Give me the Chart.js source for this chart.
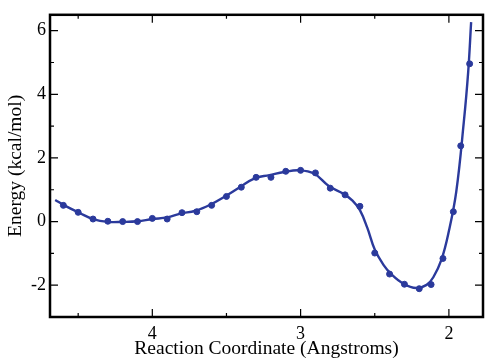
<!DOCTYPE html>
<html>
<head>
<meta charset="utf-8">
<script src="https://cdn.jsdelivr.net/npm/chart.js@4/dist/chart.umd.min.js"></script>
<style>
  html, body { margin: 0; padding: 0; background: #fff; }
  #wrap { width: 488px; height: 358px; position: relative; }
</style>
</head>
<body>
<div id="wrap"><canvas id="energyChart"></canvas></div>
<script>
// computed energies (dots)
const pointX = [4.6, 4.5, 4.4, 4.3, 4.2, 4.1, 4.0, 3.9, 3.8, 3.7, 3.6, 3.5, 3.4, 3.3, 3.2, 3.1, 3.0, 2.9, 2.8, 2.7, 2.6, 2.5, 2.4, 2.3, 2.2, 2.12, 2.04, 1.97, 1.92, 1.86];
const pointY = [0.51, 0.29, 0.08, 0.01, 0.0, 0.0, 0.10, 0.08, 0.28, 0.31, 0.51, 0.79, 1.08, 1.39, 1.39, 1.58, 1.61, 1.53, 1.05, 0.84, 0.48, -0.99, -1.65, -1.97, -2.11, -1.98, -1.16, 0.31, 2.38, 4.96];

// fitted curve
const fitX = [4.655, 4.59, 4.49, 4.40, 4.30, 4.20, 4.10, 4.00, 3.90, 3.81, 3.71, 3.61, 3.51, 3.41, 3.31, 3.21, 3.11, 3.01, 2.91, 2.81, 2.71, 2.65, 2.6, 2.55, 2.5, 2.44, 2.385, 2.305, 2.22, 2.15, 2.105, 2.05, 2.0, 1.95, 1.9, 1.87, 1.85];
const fitY = [0.68, 0.50, 0.27, 0.08, -0.01, -0.01, 0.01, 0.08, 0.13, 0.25, 0.34, 0.53, 0.79, 1.08, 1.36, 1.46, 1.56, 1.61, 1.51, 1.12, 0.87, 0.66, 0.36, -0.2, -0.88, -1.37, -1.67, -1.96, -2.09, -1.99, -1.75, -1.2, -0.3, 0.95, 3.1, 4.7, 6.27];

const xTicks = [4, 3, 2];
const xMinorTicks = [4.5, 3.5, 2.5];
const yTicks = [-2, 0, 2, 4, 6];
const yMinorTicks = [-1, 1, 3, 5];

const blue = '#2b3a9c';
const serif = 'Liberation Serif';

// frame with inward ticks on all four sides
const framePlugin = {
    id: 'frame',
    afterDraw(chart) {
        const ctx = chart.ctx;
        const a = chart.chartArea;
        const xs = chart.scales.x;
        const ys = chart.scales.y;
        ctx.save();
        ctx.strokeStyle = '#000';
        ctx.lineWidth = 1.2;
        ctx.beginPath();
        const tick = (list, len) => {
            list.forEach(v => {
                const px = xs.getPixelForValue(v);
                ctx.moveTo(px, a.bottom); ctx.lineTo(px, a.bottom - len);
                ctx.moveTo(px, a.top); ctx.lineTo(px, a.top + len);
            });
        };
        const ytick = (list, len) => {
            list.forEach(v => {
                const py = ys.getPixelForValue(v);
                ctx.moveTo(a.left, py); ctx.lineTo(a.left + len, py);
                ctx.moveTo(a.right, py); ctx.lineTo(a.right - len, py);
            });
        };
        tick(xTicks, 8);
        tick(xMinorTicks, 4);
        ytick(yTicks, 8);
        ytick(yMinorTicks, 4);
        ctx.stroke();
        ctx.lineWidth = 2.5;
        ctx.strokeRect(a.left, a.top, a.right - a.left, a.bottom - a.top);
        ctx.restore();
    }
};

const ctx = document.getElementById('energyChart').getContext('2d');
new Chart(ctx, {
    type: 'scatter',
    data: {
        datasets: [
            {
                type: 'line',
                data: fitX.map((x, i) => ({ x: x, y: fitY[i] })),
                borderColor: blue,
                borderWidth: 2.4,
                pointRadius: 0,
                fill: false,
                tension: 0.4
            },
            {
                data: pointX.map((x, i) => ({ x: x, y: pointY[i] })),
                backgroundColor: blue,
                borderColor: blue,
                pointRadius: 3
            }
        ]
    },
    options: {
        responsive: true,
        maintainAspectRatio: false,
        animation: false,
        layout: { padding: { top: 13, right: 1.5, left: 0, bottom: 0 } },
        plugins: { legend: { display: false }, tooltip: { enabled: false } },
        scales: {
            x: {
                type: 'linear',
                reverse: true,
                min: 1.77,
                max: 4.69,
                grid: { display: false, drawTicks: false },
                border: { display: false },
                afterBuildTicks: s => { s.ticks = xTicks.map(v => ({ value: v })); },
                afterFit: s => { s.height = 41; },
                ticks: { color: '#000', padding: 6, font: { family: serif, size: 18 } },
                title: {
                    display: true,
                    text: 'Reaction Coordinate (Angstroms)',
                    color: '#000',
                    font: { family: serif, size: 19.5, lineHeight: 1 },
                    padding: { top: 0, bottom: -1 }
                }
            },
            y: {
                min: -3,
                max: 6.5,
                grid: { display: false, drawTicks: false },
                border: { display: false },
                afterBuildTicks: s => { s.ticks = yTicks.map(v => ({ value: v })); },
                afterFit: s => { s.width = 50; },
                ticks: { color: '#000', padding: 4, font: { family: serif, size: 18 } },
                title: {
                    display: true,
                    text: 'Energy (kcal/mol)',
                    color: '#000',
                    font: { family: serif, size: 19.5, lineHeight: 1 },
                    padding: { top: 6, bottom: 0 }
                }
            }
        }
    },
    plugins: [framePlugin]
});
</script>
</body>
</html>
